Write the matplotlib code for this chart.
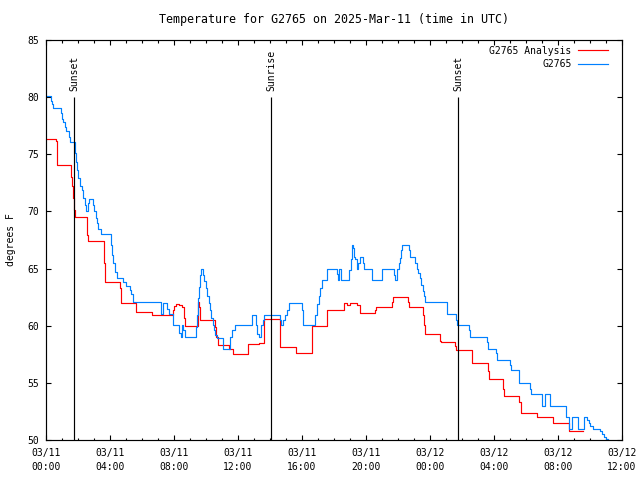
import matplotlib
matplotlib.use("Agg")
import matplotlib.pyplot as plt
from matplotlib.ticker import MultipleLocator

# hours since 03/11 00:00 UTC, temperature in F (change points of the steps)
blue_h = [0.0, 0.33, 0.4, 0.46, 0.96, 1.02, 1.08, 1.17, 1.23, 1.44, 1.5, 1.79,
          1.85, 1.92, 2.02, 2.13, 2.23, 2.33, 2.42, 2.48, 2.54, 2.6, 2.69, 2.96,
          3.0, 3.1, 3.2, 3.27, 3.42, 3.52, 4.04, 4.1, 4.19, 4.29, 4.42, 4.5,
          4.79, 5.0, 5.25, 5.33, 5.46, 7.17, 7.33, 7.58, 7.69, 7.96, 8.33, 8.44,
          8.48, 8.58, 8.69, 9.35, 9.42, 9.52, 9.58, 9.65, 9.71, 9.79, 9.88, 10.0,
          10.08, 10.17, 10.25, 10.31, 10.42, 10.5, 10.58, 10.67, 11.06, 11.48, 11.6, 11.81,
          12.9, 13.1, 13.2, 13.3, 13.42, 13.54, 13.65, 14.6, 14.67, 14.83, 14.94, 15.04,
          15.19, 16.0, 16.08, 16.81, 16.92, 17.04, 17.13, 17.25, 17.58, 18.17, 18.23, 18.33,
          18.44, 18.96, 19.04, 19.1, 19.17, 19.23, 19.31, 19.42, 19.52, 19.63, 19.79, 19.88,
          20.375, 21.0, 21.75, 21.81, 21.94, 22.04, 22.1, 22.17, 22.25, 22.71, 22.77, 23.08,
          23.17, 23.25, 23.35, 23.46, 23.56, 23.625, 23.71, 25.04, 25.6, 25.67, 26.44, 26.5,
          27.58, 27.65, 28.1, 28.17, 28.98, 29.04, 29.54, 29.58, 30.27, 30.31, 31.0, 31.19,
          31.5, 32.48, 32.71, 32.9, 33.27, 33.65, 33.79, 33.92, 34.02, 34.17, 34.625, 34.75,
          34.875, 35.0, 35.1]
blue_t = [80.1, 79.7, 79.4, 79.05, 78.6, 78.1, 77.8, 77.4, 77.06, 76.5, 76.1, 75.1,
          74.35, 73.6, 72.9, 72.2, 71.9, 71.15, 70.6, 70.0, 70.0, 70.7, 71.06, 70.6,
          70.0, 69.4, 68.96, 68.5, 68.0, 68.0, 67.06, 66.2, 65.5, 64.7, 64.15, 64.15,
          63.85, 63.5, 63.1, 62.8, 62.05, 61.0, 62.0, 61.5, 61.0, 60.06, 59.34, 59.05,
          60.06, 59.6, 59.05, 59.9, 60.9, 62.4, 63.4, 64.4, 65.0, 64.4, 63.9, 63.3,
          62.6, 62.0, 61.4, 60.65, 60.06, 59.6, 59.2, 58.9, 58.0, 59.05, 59.6, 60.06,
          60.94, 60.06, 59.3, 59.0, 60.06, 60.5, 60.94, 60.5, 60.06, 60.5, 60.94, 61.4,
          61.95, 61.4, 60.06, 60.94, 61.9, 62.6, 63.3, 64.0, 65.0, 64.5, 64.0, 65.0,
          64.0, 64.9, 65.8, 67.06, 66.8, 66.0, 65.8, 65.0, 65.5, 66.0, 65.5, 65.0,
          64.0, 65.0, 64.4, 64.0, 65.0, 65.5, 65.9, 66.6, 67.06, 66.6, 66.0, 65.5,
          65.0, 64.6, 64.15, 63.6, 63.0, 62.6, 62.05, 61.0, 60.5, 60.06, 59.6, 59.04,
          58.6, 58.0, 57.6, 57.0, 56.6, 56.1, 55.55, 55.0, 54.5, 54.03, 53.0, 54.0,
          53.0, 52.04, 51.0, 52.0, 51.0, 52.0, 51.75, 51.5, 51.25, 51.0, 50.8, 50.5,
          50.3, 50.1, 50.06]

red_h = [0.0, 0.6, 0.71, 1.58, 1.65, 1.69, 1.73, 1.79, 2.58, 2.65, 3.65, 3.71,
         4.625, 4.69, 5.6, 5.65, 6.6, 7.96, 8.02, 8.13, 8.33, 8.5, 8.6, 8.67,
         9.48, 9.56, 9.625, 10.56, 10.65, 10.73, 11.46, 11.67, 12.6, 13.33, 13.625, 14.65,
         15.625, 16.6, 17.58, 18.6, 18.81, 19.02, 19.44, 19.6, 20.58, 20.65, 21.625, 21.69,
         22.625, 22.67, 23.56, 23.625, 23.67, 24.6, 24.67, 25.58, 25.65, 26.6, 26.65, 27.6,
         27.67, 28.54, 28.65, 29.58, 29.67, 30.67, 31.67, 32.69, 33.58]
red_t = [76.3, 76.2, 74.06, 73.04, 72.2, 71.15, 70.1, 69.5, 67.9, 67.4, 65.46, 63.8,
         63.3, 62.0, 61.7, 61.2, 60.94, 61.4, 61.7, 61.9, 61.8, 61.6, 60.65, 59.97,
         62.1, 61.6, 60.5, 59.9, 59.05, 58.3, 58.0, 57.5, 58.37, 58.46, 60.56, 58.1,
         57.64, 60.0, 61.4, 62.0, 61.8, 62.0, 61.8, 61.1, 61.4, 61.6, 62.1, 62.5,
         62.1, 61.6, 60.94, 60.06, 59.25, 58.7, 58.55, 58.2, 57.9, 57.3, 56.71, 56.0,
         55.3, 54.5, 53.85, 53.36, 52.4, 52.0, 51.46, 50.8, 50.8]

sun_h = [1.75, 14.06, 25.75]
sun_labels = ["Sunset", "Sunrise", "Sunset"]

tick_h = [0, 4, 8, 12, 16, 20, 24, 28, 32, 36]
tick_labels = ["03/11\n00:00", "03/11\n04:00", "03/11\n08:00", "03/11\n12:00",
               "03/11\n16:00", "03/11\n20:00", "03/12\n00:00", "03/12\n04:00",
               "03/12\n08:00", "03/12\n12:00"]

plt.rcParams["font.family"] = "DejaVu Sans Mono"
plt.rcParams["font.size"] = 7

fig = plt.figure(figsize=(6.4, 4.8), dpi=100)
ax = fig.add_axes([46/640, 40/480, 576/640, 400/480])

ax.plot(red_h, red_t, drawstyle="steps-post", color="#ff0000", lw=0.85, label="G2765 Analysis")
ax.plot(blue_h, blue_t, drawstyle="steps-post", color="#0080ff", lw=0.85, label="G2765")

ax.vlines(sun_h, 50, 80, color="black", lw=0.85)
for h, lab in zip(sun_h, sun_labels):
    ax.text(h, 80.5, lab, rotation=90, ha="center", va="bottom")

ax.set_xlim(0, 36)
ax.set_ylim(50, 85)
ax.set_xticks(tick_h)
ax.set_xticklabels(tick_labels)
for lbl in ax.get_xticklabels():
    lbl.set_linespacing(1.5)
ax.xaxis.set_minor_locator(MultipleLocator(1))
ax.yaxis.set_major_locator(MultipleLocator(5))
ax.tick_params(which="both", direction="in", top=True, right=True, color="black")
ax.tick_params(which="major", length=3.5, width=0.8)
ax.tick_params(which="minor", length=1.8, width=0.8)
ax.tick_params(axis="x", pad=6)
ax.tick_params(axis="y", pad=5)
for s in ax.spines.values():
    s.set_linewidth(0.85)

ax.set_ylabel("degrees F", labelpad=8)
ax.set_title("Temperature for G2765 on 2025-Mar-11 (time in UTC)", pad=12)

ax.legend(loc="upper right", markerfirst=False, frameon=False, handlelength=3.0,
          handletextpad=0.7, labelspacing=0.35, borderaxespad=0.2,
          bbox_to_anchor=(0.985, 1.0))

fig.savefig("out.png", dpi=100)
